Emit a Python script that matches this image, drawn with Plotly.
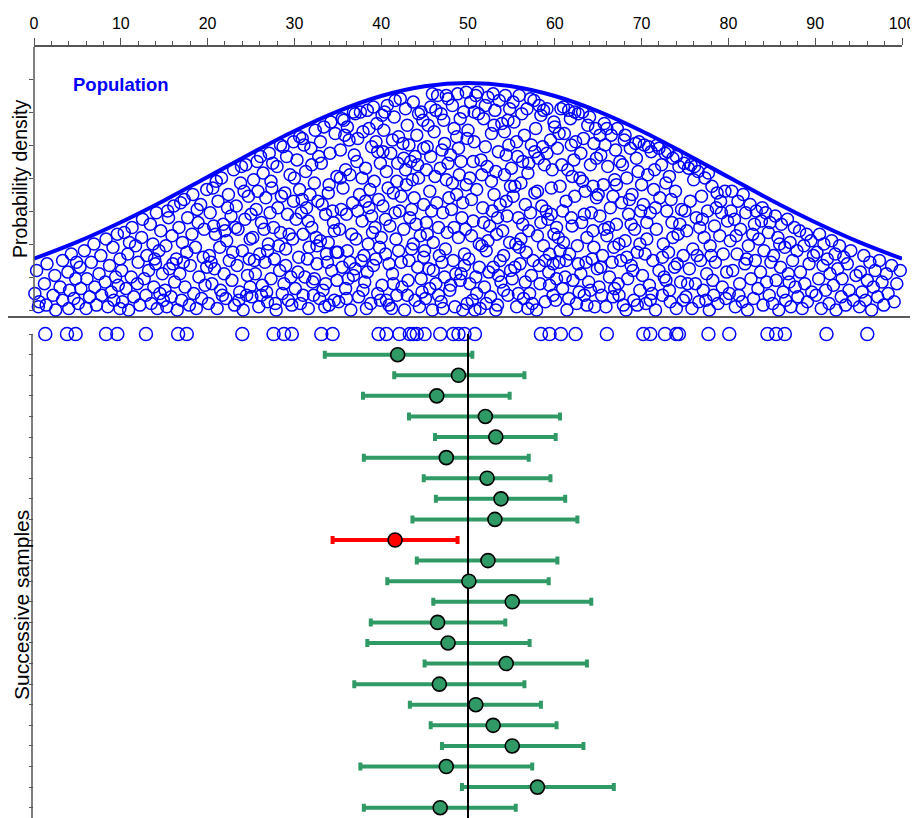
import plotly.graph_objects as go

# ---------------- data ----------------
x_tick_values = [0, 10, 20, 30, 40, 50, 60, 70, 80, 90, 100]
density_ticks = [0, 2, 4, 6, 8, 10, 12, 14]          # density x 1000

# population density curve (density x 1000)
curve_x = [0, 5, 10, 15, 20, 25, 30, 35, 40, 45, 50, 55, 60, 65, 70, 75, 80, 85, 90, 95, 100]
curve_y = [3.11, 4.13, 5.32, 6.64, 8.06, 9.49, 10.85, 12.04, 12.97, 13.56, 13.76,
           13.56, 12.97, 12.04, 10.85, 9.49, 8.06, 6.64, 5.32, 4.13, 3.11]

# population individuals (value, height under the curve)
population_points = [
    (0.1,1.0),(0.3,2.4),(0.5,0.2),(0.6,0.5),(1.2,1.6),(1.4,0.3),(1.5,2.8),(2.2,0.9),(2.4,2.1),(2.5,0.0),
    (3.0,1.4),(3.3,3.0),(3.3,0.6),(3.9,2.3),(4.0,0.1),(4.1,1.2),(4.3,3.4),(4.6,0.7),(4.8,1.9),(4.9,2.9),
    (5.1,0.4),(5.3,2.6),(5.4,1.3),(5.8,3.6),(6.0,0.1),(6.1,1.9),(6.4,0.8),(6.6,2.9),(6.9,4.0),(7.0,1.4),
    (7.2,0.3),(7.5,2.2),(7.7,3.3),(7.8,0.9),(8.2,1.7),(8.3,4.3),(8.5,0.2),(8.7,2.7),(8.9,1.1),(9.1,3.8),
    (9.2,0.6),(9.4,2.0),(9.6,4.6),(9.7,1.5),(9.9,3.1),(9.9,0.1),
    (10.1,2.4),(10.2,0.5),(10.4,4.7),(10.6,1.3),(10.8,3.4),(10.9,0.0),(11.2,2.0),(11.3,5.0),(11.5,0.8),(11.7,3.9),
    (11.9,1.6),(12.0,2.9),(12.2,0.3),(12.4,4.4),(12.5,5.5),(12.7,1.9),(12.9,0.9),(13.0,3.3),(13.2,2.4),(13.4,5.2),
    (13.5,0.4),(13.7,4.0),(13.8,1.4),(14.0,2.8),(14.1,5.9),(14.2,0.1),(14.4,3.6),(14.5,1.0),(14.6,4.8),(14.8,2.2),
    (14.9,0.6),(11.0,4.1),(13.9,3.1),
    (15.1,1.2),(15.2,3.9),(15.3,0.2),(15.5,5.6),(15.6,2.5),(15.8,0.8),(15.9,4.5),(16.1,6.3),(16.2,1.7),(16.4,3.1),
    (16.5,0.0),(16.7,5.0),(16.8,2.2),(17.0,0.6),(17.1,4.1),(17.3,6.7),(17.4,1.4),(17.6,3.5),(17.7,5.6),(17.9,0.3),
    (18.0,2.7),(18.2,4.6),(18.3,7.0),(18.4,1.0),(18.6,3.8),(18.7,0.1),(18.9,5.3),(19.0,2.0),(19.2,6.4),(19.3,0.7),
    (19.5,3.2),(19.6,4.9),(19.7,1.5),(19.9,7.3),(19.9,2.6),(16.0,2.8),(17.2,2.9),(18.8,6.1),(15.4,6.0),(16.9,6.5),
    (20.1,0.4),(20.2,3.3),(20.3,5.9),(20.5,1.6),(20.6,7.4),(20.8,2.5),(20.9,4.6),(21.1,0.1),(21.2,6.6),(21.4,3.8),
    (21.5,1.2),(21.6,8.0),(21.8,5.2),(21.9,2.2),(22.1,0.7),(22.2,4.2),(22.4,7.0),(22.5,3.0),(22.7,5.7),(22.8,1.8),
    (23.0,8.5),(23.1,0.3),(23.3,6.3),(23.4,2.7),(23.5,4.9),(23.7,1.1),(23.8,7.7),(24.0,3.6),(24.1,0.0),(24.3,5.5),
    (24.4,8.8),(24.6,2.1),(24.7,6.9),(24.9,1.4),(24.9,4.3),(20.4,2.9),(21.0,7.8),(21.7,0.9),(22.3,6.2),(22.9,3.5),
    (23.6,0.6),(24.2,7.2),(24.8,3.1),(20.7,5.1),(22.0,4.8),(23.2,5.0),(24.5,0.9),(23.9,8.7),
    (25.1,0.8),(25.2,4.4),(25.3,7.9),(25.5,2.2),(25.6,6.1),(25.7,9.0),(25.9,0.2),(26.0,3.4),(26.2,5.3),(26.3,1.5),
    (26.4,8.3),(26.6,2.9),(26.7,6.8),(26.9,0.5),(27.0,4.0),(27.1,9.5),(27.3,1.9),(27.4,7.4),(27.6,5.0),(27.7,3.1),
    (27.9,0.0),(28.0,8.7),(28.1,6.2),(28.3,2.4),(28.4,4.7),(28.6,1.0),(28.7,9.9),(28.9,7.1),(29.0,3.7),(29.2,5.8),
    (29.3,0.6),(29.5,8.2),(29.6,2.0),(29.8,4.3),(29.9,6.6),(29.9,10.2),(25.4,3.0),(25.8,7.2),(26.1,9.3),(26.5,4.9),
    (26.8,1.1),(27.2,5.9),(27.5,8.9),(27.8,0.4),(28.2,3.9),(28.5,6.9),(28.8,1.6),(29.1,9.3),(29.4,4.6),(29.7,0.3),
    (25.0,5.8),(26.9,3.6),(28.4,10.0),(27.3,7.8),(29.0,2.7),(26.2,0.9),
    (30.1,1.3),(30.2,5.5),(30.3,9.1),(30.5,3.2),(30.6,7.3),(30.7,0.4),(30.9,10.4),(31.0,4.6),(31.2,2.0),(31.3,8.4),
    (31.4,6.2),(31.6,0.1),(31.7,3.8),(31.9,9.8),(32.0,5.0),(32.1,1.7),(32.3,7.7),(32.4,10.9),(32.6,2.8),(32.7,6.6),
    (32.9,0.7),(33.0,4.2),(33.1,8.9),(33.3,1.2),(33.4,11.1),(33.6,5.8),(33.7,3.4),(33.9,7.1),(34.0,0.3),(34.1,9.5),
    (34.3,2.4),(34.4,6.0),(34.6,4.8),(34.7,10.7),(34.9,1.8),(34.9,8.1),(30.4,2.3),(30.8,5.9),(31.1,10.0),(31.5,3.1),
    (31.8,7.0),(32.2,0.9),(32.5,4.4),(32.8,9.3),(33.2,6.4),(33.5,0.2),(33.8,2.9),(34.2,11.4),(34.5,5.3),(34.8,3.5),
    (30.0,8.0),(31.0,0.9),(32.0,8.8),(33.0,10.2),(34.0,7.6),(30.6,10.5),(31.6,5.4),(32.6,3.9),(33.6,1.6),(34.6,0.6),
    (30.9,6.7),(32.3,1.9),(33.9,4.1),
    (35.1,0.5),(35.2,4.9),(35.3,9.7),(35.5,2.6),(35.6,7.4),(35.7,11.5),(35.9,1.3),(36.0,5.8),(36.1,3.6),(36.3,10.3),
    (36.4,8.2),(36.5,0.0),(36.7,6.5),(36.8,2.1),(37.0,11.9),(37.1,4.3),(37.2,9.0),(37.4,0.8),(37.5,7.0),(37.7,3.0),
    (37.8,5.4),(37.9,10.8),(38.1,1.7),(38.2,8.6),(38.4,12.1),(38.5,4.0),(38.6,6.2),(38.8,0.4),(38.9,9.9),(39.1,2.7),
    (39.2,7.8),(39.3,5.0),(39.5,11.3),(39.6,1.0),(39.8,3.8),(39.9,8.9),(35.4,6.1),(35.8,10.6),(36.2,1.9),(36.6,4.6),
    (36.9,9.4),(37.3,6.0),(37.6,12.0),(38.0,3.3),(38.3,0.1),(38.7,7.3),(39.0,4.7),(39.4,10.2),(39.7,6.7),(35.0,3.5),
    (35.9,8.5),(36.8,12.0),(37.9,1.2),(38.9,5.7),(39.9,0.6),(35.5,11.6),(36.4,2.9),(37.3,10.4),(38.2,6.6),(39.1,12.3),
    (35.3,8.0),(36.1,11.1),(37.0,2.5),(37.8,8.0),(38.6,11.0),(39.4,3.1),(36.0,0.7),(38.4,2.3),(39.6,9.6),
    (40.1,1.5),(40.2,6.3),(40.3,10.9),(40.5,3.4),(40.6,8.4),(40.7,12.4),(40.9,0.3),(41.0,5.1),(41.1,9.5),(41.3,2.2),
    (41.4,7.1),(41.5,11.7),(41.7,4.3),(41.8,0.9),(41.9,8.9),(42.1,6.0),(42.2,12.8),(42.3,2.9),(42.5,10.1),(42.6,4.9),
    (42.7,0.0),(42.9,7.6),(43.0,11.2),(43.1,1.8),(43.3,5.6),(43.4,9.0),(43.5,3.7),(43.7,12.6),(43.8,6.8),(43.9,0.6),
    (44.1,10.6),(44.2,2.6),(44.3,8.0),(44.5,4.5),(44.6,12.0),(44.7,1.1),(44.9,6.4),(44.9,9.8),(40.0,4.4),(40.4,12.0),
    (40.8,7.4),(41.2,0.1),(41.6,5.9),(42.0,10.5),(42.4,1.4),(42.8,8.5),(43.2,3.0),(43.6,7.9),(44.0,5.2),(44.4,0.2),
    (44.8,11.5),(40.2,9.6),(40.9,2.8),(41.6,12.7),(42.3,6.9),(43.0,0.9),(43.7,4.0),(44.3,11.9),(40.6,0.6),(41.3,10.3),
    (42.0,3.6),(42.8,12.2),(43.5,6.1),(44.2,8.8),(44.9,3.2),(40.5,5.5),(41.8,7.8),(43.2,10.0),(44.6,1.9),(40.1,11.8),
    (41.4,1.6),(42.6,9.2),(43.9,9.3),
    (45.1,0.7),(45.2,5.3),(45.3,9.9),(45.5,2.5),(45.6,7.2),(45.7,12.3),(45.9,0.0),(46.0,4.1),(46.1,10.8),(46.3,1.6),
    (46.4,6.5),(46.5,13.0),(46.7,3.3),(46.8,8.6),(46.9,0.5),(47.1,5.9),(47.2,11.5),(47.3,2.0),(47.5,7.9),(47.6,4.7),
    (47.7,12.8),(47.9,1.2),(48.0,9.4),(48.1,6.1),(48.3,3.0),(48.4,11.0),(48.5,0.2),(48.7,7.0),(48.8,13.1),(48.9,4.4),
    (49.1,1.8),(49.2,9.0),(49.3,5.6),(49.5,12.0),(49.6,2.7),(49.8,7.6),(49.9,0.4),(49.9,10.4),(45.0,3.6),(45.4,11.2),
    (45.8,6.0),(46.2,8.1),(46.6,0.9),(47.0,9.7),(47.4,3.7),(47.8,6.8),(48.2,12.4),(48.6,2.2),(49.0,8.2),(49.4,0.0),
    (49.7,4.9),(45.2,8.5),(45.9,13.1),(46.6,5.0),(47.3,10.1),(48.0,1.5),(48.7,10.5),(49.4,6.5),(45.6,1.3),(46.3,12.1),
    (47.0,2.9),(47.7,8.9),(48.4,5.0),(49.1,11.6),(49.8,13.2),(45.3,4.6),(46.9,11.9),(48.2,7.7),(49.6,3.4),(45.7,9.3),
    (47.1,0.1),(48.9,9.8),(46.0,2.4),(47.5,13.0),(49.2,2.2),
    (50.1,3.1),(50.2,8.0),(50.3,12.6),(50.5,0.6),(50.6,5.4),(50.7,10.2),(50.9,2.0),(51.0,7.3),(51.1,13.2),(51.3,4.0),
    (51.4,0.1),(51.5,9.1),(51.7,6.2),(51.8,11.6),(51.9,1.4),(52.1,3.6),(52.2,8.7),(52.3,12.9),(52.5,5.1),(52.6,0.8),
    (52.7,10.7),(52.9,2.6),(53.0,7.0),(53.1,12.1),(53.3,4.6),(53.4,0.3),(53.5,9.6),(53.7,6.4),(53.8,1.7),(53.9,11.3),
    (54.1,3.3),(54.2,8.2),(54.3,13.0),(54.5,5.7),(54.6,0.9),(54.7,10.0),(54.9,2.4),(54.9,7.5),(50.0,10.9),(50.4,6.7),
    (50.8,0.0),(51.2,11.9),(51.6,3.9),(52.0,9.9),(52.4,2.3),(52.8,6.0),(53.2,0.0),(53.6,12.7),(54.0,4.8),(54.4,9.4),
    (54.8,12.2),(50.2,1.6),(50.9,13.0),(51.6,8.2),(52.3,4.2),(53.0,11.2),(53.7,3.0),(54.4,6.6),(50.6,9.0),(51.3,2.6),
    (52.0,12.4),(52.7,7.8),(53.4,5.6),(54.1,1.2),(54.8,4.1),(50.4,4.5),(51.8,5.3),(53.2,8.4),(54.6,11.5),(50.7,12.0),
    (52.1,0.4),(53.5,2.1),(54.2,10.8),(51.0,1.0),(52.9,13.1),
    (55.1,1.9),(55.2,6.9),(55.3,11.4),(55.5,4.0),(55.6,0.2),(55.7,9.3),(55.9,13.0),(56.0,2.8),(56.1,7.7),(56.3,5.2),
    (56.4,0.7),(56.5,10.6),(56.7,3.5),(56.8,12.2),(56.9,8.3),(57.1,1.0),(57.2,5.9),(57.3,10.0),(57.5,3.0),(57.6,12.7),
    (57.7,7.1),(57.9,0.0),(58.0,4.5),(58.1,9.2),(58.3,1.6),(58.4,11.8),(58.5,6.3),(58.7,3.9),(58.8,8.8),(58.9,0.5),
    (59.1,12.2),(59.2,5.5),(59.3,2.3),(59.5,10.3),(59.6,7.4),(59.8,0.9),(59.9,4.6),(59.9,11.4),(55.0,8.6),(55.4,2.6),
    (55.8,5.6),(56.2,11.9),(56.6,1.7),(57.0,8.9),(57.4,0.4),(57.8,11.0),(58.2,2.7),(58.6,9.9),(59.0,6.0),(59.4,3.4),
    (59.7,8.5),(55.2,12.6),(55.9,3.8),(56.6,6.4),(57.3,2.1),(58.0,7.2),(58.7,12.1),(59.4,1.5),(55.6,10.2),(56.3,9.0),
    (57.0,4.8),(57.7,9.6),(58.4,5.3),(59.1,9.5),(59.8,2.8),(55.4,7.5),(56.9,0.1),(58.2,12.4),(59.6,5.8),(55.8,1.0),
    (57.2,12.8),(58.9,3.0),(56.1,4.3),
    (60.1,0.6),(60.2,5.0),(60.3,9.8),(60.5,2.9),(60.6,7.5),(60.7,12.2),(60.9,1.3),(61.0,4.1),(61.1,10.7),(61.3,6.6),
    (61.4,0.0),(61.5,8.5),(61.7,3.4),(61.8,11.6),(61.9,5.6),(62.1,1.8),(62.2,9.1),(62.3,6.9),(62.5,0.4),(62.6,3.9),
    (62.7,11.9),(62.9,8.0),(63.0,2.2),(63.1,5.3),(63.3,10.4),(63.4,0.9),(63.5,7.2),(63.7,4.4),(63.8,11.2),(63.9,1.7),
    (64.1,8.8),(64.2,5.9),(64.3,3.1),(64.5,10.1),(64.6,0.2),(64.8,6.8),(64.9,2.5),(60.0,11.1),(60.4,4.4),(60.8,8.8),
    (61.2,2.0),(61.6,12.1),(62.0,5.1),(62.4,10.2),(62.8,1.1),(63.2,7.8),(63.6,2.9),(64.0,11.7),(64.4,4.8),(64.8,9.2),
    (60.2,1.9),(60.9,6.0),(61.6,0.7),(62.3,12.0),(63.0,9.5),(63.7,0.3),(64.4,7.5),(60.5,10.7),(61.3,3.0),(62.0,8.1),
    (62.7,2.8),(63.4,5.8),(64.1,1.2),(64.7,11.0),(60.6,3.6),(61.9,10.0),(63.2,12.0),(64.5,3.8),(61.0,12.3),
    (65.1,1.4),(65.2,5.7),(65.3,9.4),(65.5,3.3),(65.6,7.6),(65.7,11.3),(65.9,0.2),(66.0,4.5),(66.1,8.7),(66.3,2.0),
    (66.4,6.2),(66.5,10.6),(66.7,0.8),(66.8,3.8),(66.9,7.9),(67.1,5.2),(67.2,11.0),(67.3,1.6),(67.5,9.0),(67.6,3.0),
    (67.7,6.5),(67.9,0.3),(68.0,10.3),(68.1,4.2),(68.3,8.0),(68.4,1.9),(68.5,5.8),(68.7,9.8),(68.8,2.7),(68.9,7.0),
    (69.1,0.6),(69.2,4.9),(69.3,10.1),(69.5,3.5),(69.6,8.4),(69.8,1.2),(69.9,6.0),(65.0,7.0),(65.4,0.9),(65.8,10.0),
    (66.2,5.0),(66.6,2.9),(67.0,9.7),(67.4,4.0),(67.8,8.8),(68.2,0.0),(68.6,6.7),(69.0,2.4),(69.4,9.2),(69.8,4.0),
    (65.3,2.6),(66.0,11.0),(66.7,6.9),(67.4,0.9),(68.1,10.6),(68.8,5.2),(69.5,0.3),(65.7,4.9),(66.9,1.3),(68.3,3.2),
    (69.7,10.2),(67.1,7.6),(65.2,10.6),
    (70.1,2.1),(70.2,6.4),(70.3,10.0),(70.5,0.4),(70.6,4.3),(70.7,8.2),(70.9,1.5),(71.0,5.9),(71.1,9.6),(71.3,3.0),
    (71.4,7.3),(71.6,0.0),(71.7,4.9),(71.8,10.0),(72.0,2.4),(72.1,6.8),(72.3,8.8),(72.4,0.9),(72.5,4.0),(72.7,9.5),
    (72.8,1.8),(72.9,6.0),(73.1,3.5),(73.2,8.1),(73.3,0.5),(73.5,5.3),(73.6,9.2),(73.8,2.6),(73.9,7.2),(74.0,0.1),
    (74.2,4.6),(74.3,8.7),(74.5,1.7),(74.6,6.1),(74.8,3.3),(74.9,8.9),(70.0,7.6),(70.4,3.4),(70.8,9.9),(71.2,1.0),
    (71.6,6.2),(72.0,9.8),(72.4,3.2),(72.8,7.7),(73.2,1.2),(73.6,4.4),(74.0,9.3),(74.4,5.2),(74.8,0.6),(70.6,5.3),
    (71.5,8.5),(72.6,2.0),(73.4,6.7),(74.1,2.8),(71.0,0.6),(73.0,9.6),
    (75.1,0.8),(75.2,4.8),(75.4,8.6),(75.5,2.5),(75.6,6.6),(75.8,0.1),(75.9,3.7),(76.0,7.9),(76.2,1.6),(76.3,5.6),
    (76.5,8.4),(76.6,0.5),(76.8,3.0),(76.9,6.9),(77.1,1.2),(77.2,4.4),(77.3,8.0),(77.5,2.2),(77.6,6.0),(77.8,0.0),
    (77.9,3.9),(78.1,7.5),(78.2,1.8),(78.4,5.1),(78.5,2.9),(78.7,7.1),(78.8,0.4),(79.0,4.5),(79.1,6.6),(79.3,1.4),
    (79.4,3.4),(79.6,7.2),(79.7,0.7),(79.9,5.4),(75.0,6.0),(75.7,8.8),(76.4,3.3),(77.0,5.5),(77.7,8.3),(78.3,0.9),
    (79.2,5.9),(79.8,2.3),(76.1,8.7),(77.4,0.6),(78.6,6.2),(75.3,1.6),(76.7,5.0),(78.0,3.3),
    (80.1,1.0),(80.2,4.2),(80.4,7.2),(80.5,2.4),(80.7,5.5),(80.8,0.2),(81.0,3.4),(81.1,6.6),(81.3,1.6),(81.4,4.9),
    (81.6,0.5),(81.7,7.0),(81.9,2.8),(82.0,5.9),(82.2,0.0),(82.3,3.9),(82.5,6.4),(82.6,1.9),(82.8,4.6),(82.9,0.7),
    (83.1,3.0),(83.2,6.0),(83.4,1.3),(83.5,4.3),(83.7,2.3),(83.8,5.4),(84.0,0.3),(84.1,3.6),(84.3,5.9),(84.4,1.7),
    (84.6,4.7),(84.7,0.9),(84.9,2.9),(80.3,6.0),(81.2,0.9),(82.1,3.1),(83.0,5.2),(83.9,6.2),(84.8,5.3),(80.9,4.5),
    (85.1,0.4),(85.2,3.3),(85.4,5.7),(85.5,1.8),(85.7,4.4),(85.8,0.0),(86.0,2.6),(86.1,5.2),(86.3,1.1),(86.5,3.8),
    (86.6,0.6),(86.8,5.5),(86.9,2.2),(87.1,4.1),(87.2,0.2),(87.4,3.0),(87.6,5.0),(87.7,1.4),(87.9,3.6),(88.0,0.8),
    (88.2,4.8),(88.3,2.3),(88.5,0.1),(88.7,3.9),(88.8,1.6),(89.0,4.6),(89.1,0.5),(89.3,2.8),(89.5,4.2),(89.6,1.1),
    (89.8,3.3),(85.9,4.0),(87.0,1.7),
    (90.1,0.9),(90.2,3.5),(90.4,1.9),(90.5,4.6),(90.7,0.1),(90.9,2.7),(91.0,4.0),(91.2,1.2),(91.4,3.1),(91.6,0.4),
    (91.7,2.2),(91.9,4.2),(92.1,1.5),(92.3,3.4),(92.4,0.0),(92.6,2.5),(92.8,3.9),(93.0,0.8),(93.1,1.9),(93.3,3.2),
    (93.5,0.3),(93.7,2.8),(93.9,1.2),(94.1,3.6),(94.4,0.6),(94.7,2.1),
    (95.1,0.2),(95.2,2.3),(95.4,1.1),(95.6,3.3),(95.8,0.6),(96.0,1.8),(96.3,2.9),(96.5,0.0),(96.7,1.4),(96.9,2.4),
    (97.2,0.8),(97.4,3.0),(97.7,1.7),(97.9,0.3),(98.2,2.2),(98.4,1.0),(98.8,2.7),(99.1,0.5),(99.4,1.6),(99.8,2.4),
]

# current sample drawn from the population (row 0 of the lower panel)
sample_values = [1.3, 3.8, 4.8, 8.3, 9.6, 12.9, 16.6, 17.6, 24.0, 27.6, 28.8, 29.7, 33.1, 34.4,
                 39.7, 40.6, 42.1, 43.3, 43.7, 44.1, 45.0, 46.8, 48.3, 48.9, 49.6, 50.8, 58.4,
                 59.4, 60.7, 62.4, 66.0, 70.2, 71.0, 72.7, 74.0, 74.3, 77.7, 80.1, 84.5, 85.5,
                 86.5, 91.3, 96.0]

# successive samples: mean and confidence interval
ci_low = [33.5, 41.5, 37.9, 43.2, 46.2, 38.0, 44.9, 46.3, 43.6, 34.4, 44.1, 40.7,
          46.0, 38.8, 38.4, 45.0, 36.9, 43.3, 45.7, 47.0, 37.6, 49.3, 38.0]
sample_means = [41.9, 48.9, 46.4, 52.0, 53.2, 47.5, 52.2, 53.8, 53.1, 41.6, 52.3, 50.1,
                55.1, 46.5, 47.7, 54.4, 46.7, 50.9, 52.9, 55.1, 47.5, 58.0, 46.8]
ci_high = [50.5, 56.5, 54.8, 60.6, 60.1, 57.0, 59.5, 61.2, 62.6, 48.8, 60.3, 59.3,
           64.2, 54.3, 57.1, 63.7, 56.5, 58.4, 60.2, 63.3, 57.4, 66.8, 55.5]
population_mean = 50

# ---------------- styles ----------------
BLUE = "#0000FF"
GREEN = "#2F9A66"
RED = "#FF0000"
AXIS = "#555555"
FONT = "Liberation Sans, Arial, sans-serif"

fig = go.Figure()

# population cloud
fig.add_trace(go.Scatter(
    x=[p[0] for p in population_points], y=[p[1] for p in population_points],
    mode="markers", xaxis="x", yaxis="y", cliponaxis=False, hoverinfo="skip",
    marker=dict(symbol="circle-open", size=12, color=BLUE, line=dict(width=1.5, color=BLUE)),
))
# density curve
fig.add_trace(go.Scatter(
    x=curve_x, y=curve_y, mode="lines", xaxis="x", yaxis="y", cliponaxis=False,
    line=dict(color=BLUE, width=4, shape="spline"), hoverinfo="skip",
))

# sample row
fig.add_trace(go.Scatter(
    x=sample_values, y=[0] * len(sample_values), mode="markers", xaxis="x2", yaxis="y2",
    cliponaxis=False, hoverinfo="skip",
    marker=dict(symbol="circle-open", size=13, color=BLUE, line=dict(width=1.5, color=BLUE)),
))

rows = list(range(1, len(sample_means) + 1))
groups = {GREEN: [], RED: []}
for i, (lo, m, hi) in enumerate(zip(ci_low, sample_means, ci_high)):
    col = RED if (hi < population_mean or lo > population_mean) else GREEN
    groups[col].append(i)

# error bars (under the mean line)
for col, idx in groups.items():
    if not idx:
        continue
    fig.add_trace(go.Scatter(
        x=[sample_means[i] for i in idx], y=[rows[i] for i in idx],
        mode="markers", xaxis="x2", yaxis="y2", hoverinfo="skip",
        marker=dict(size=1, color="rgba(0,0,0,0)"),
        error_x=dict(type="data", symmetric=False,
                     array=[ci_high[i] - sample_means[i] for i in idx],
                     arrayminus=[sample_means[i] - ci_low[i] for i in idx],
                     color=col, thickness=4, width=4),
    ))

# population mean line
fig.add_trace(go.Scatter(
    x=[population_mean, population_mean], y=[0, 23.6], mode="lines",
    xaxis="x2", yaxis="y2", line=dict(color="black", width=2), hoverinfo="skip",
))

# sample means
for col, idx in groups.items():
    if not idx:
        continue
    fig.add_trace(go.Scatter(
        x=[sample_means[i] for i in idx], y=[rows[i] for i in idx],
        mode="markers", xaxis="x2", yaxis="y2", hoverinfo="skip",
        marker=dict(size=14, color=col, line=dict(color="black", width=1.6)),
    ))

split = 1 - 270 / 771  # top panel: 270 px of 771 px plot height

# the page body adds an 8 px margin, so the figure is 8 px smaller and shifted back
fig.update_layout(
    width=910, height=810,
    margin=dict(l=26, r=16, t=39, b=0),
    paper_bgcolor="white", plot_bgcolor="white",
    showlegend=False,
    font=dict(family=FONT, color="black"),
    xaxis=dict(
        domain=[0, 1], range=[0, 100], anchor="y", side="top",
        tickmode="array", tickvals=x_tick_values,
        ticks="outside", ticklen=7, tickwidth=1.3, tickcolor=AXIS,
        showline=True, linecolor=AXIS, linewidth=1.5,
        minor=dict(dtick=2, tick0=0, ticks="outside", ticklen=4, tickwidth=1.3, tickcolor=AXIS),
        tickfont=dict(family=FONT, size=16, color="black"),
        ticklabelstandoff=3,
        showgrid=False, zeroline=False, fixedrange=True,
    ),
    yaxis=dict(
        domain=[split, 1], range=[-0.42, 15.94], anchor="x",
        tickmode="array", tickvals=density_ticks, showticklabels=False,
        ticks="outside", ticklen=4, tickwidth=1.3, tickcolor=AXIS,
        showline=False, showgrid=False, zeroline=False,
    ),
    xaxis2=dict(domain=[0, 1], range=[0, 100], anchor="y2", visible=False),
    yaxis2=dict(
        domain=[0, split], range=[23.5, -0.83], anchor="x2",
        tickmode="array", tickvals=list(range(0, 24)), showticklabels=False,
        ticks="outside", ticklen=4, tickwidth=1.3, tickcolor=AXIS,
        showline=False, showgrid=False, zeroline=False,
    ),
    shapes=[
        dict(type="line", xref="paper", yref="y", x0=0, x1=0, y0=0, y1=15.94,
             line=dict(color=AXIS, width=1.5)),
        dict(type="line", xref="paper", yref="y2", x0=-0.0023, x1=-0.0023, y0=0, y1=23.5,
             line=dict(color=AXIS, width=1.5)),
        dict(type="line", xref="paper", yref="paper", x0=-0.0357, x1=1.0184, y0=split, y1=split,
             line=dict(color="#222222", width=1.6)),
    ],
    annotations=[
        dict(text="<b>Population</b>", xref="paper", yref="paper",
             x=(71 - 34) / 868, y=(818 - 84) / 771, xanchor="left", yanchor="middle",
             showarrow=False,
             font=dict(family="Liberation Sans, Arial, sans-serif", size=18.5, color=BLUE)),
        dict(text="Probability density", xref="paper", yref="paper",
             x=(20 - 34) / 868, y=(818 - 179) / 771, xanchor="center", yanchor="middle",
             textangle=-90, showarrow=False, font=dict(family=FONT, size=19.5, color="black")),
        dict(text="Successive samples", xref="paper", yref="paper",
             x=(21 - 34) / 868, y=(818 - 605) / 771, xanchor="center", yanchor="middle",
             textangle=-90, showarrow=False, font=dict(family=FONT, size=21, color="black")),
    ],
)

fig.write_html("out.html")
